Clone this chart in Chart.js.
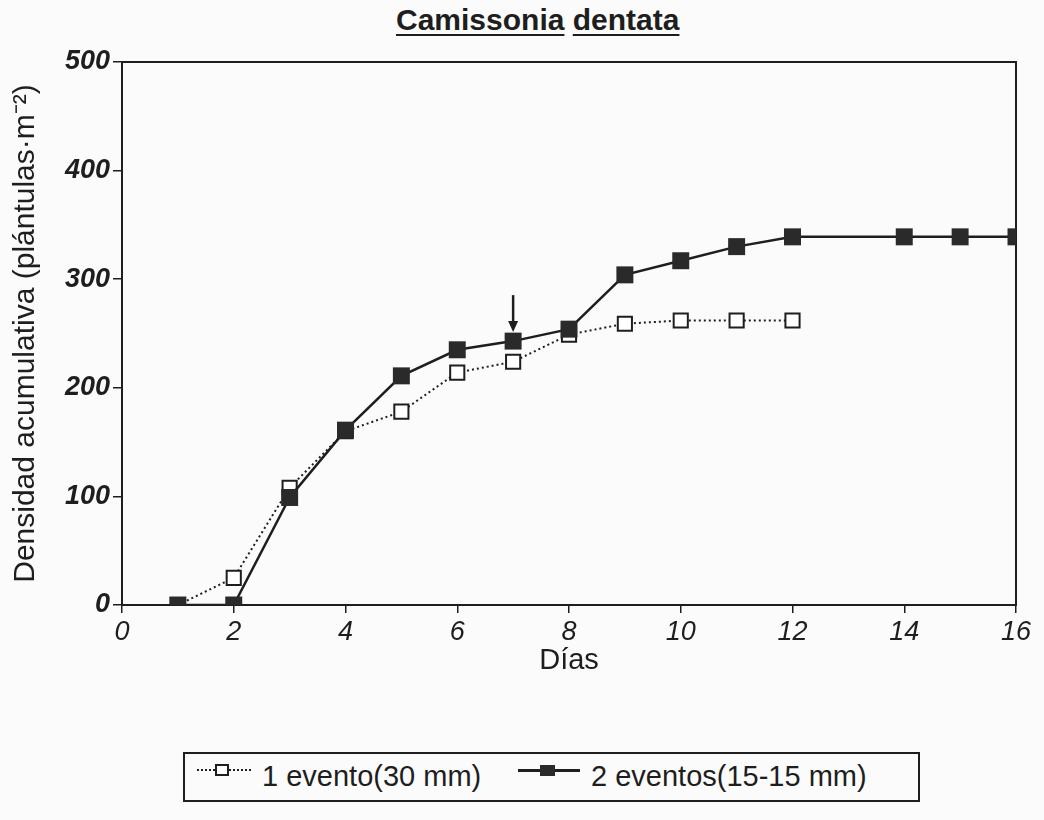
<!DOCTYPE html>
<html>
<head>
<meta charset="utf-8">
<script src="https://cdn.jsdelivr.net/npm/chart.js"></script>
<style>
  body { margin: 0; background: #fbfbfb; font-family: "Liberation Sans", Arial, sans-serif; color: #1e1e1e; }
  #wrap { position: relative; width: 1044px; height: 820px; }
  #title { position: absolute; top: 3px; left: 396px; font-size: 30px; font-weight: bold; white-space: nowrap; }
  #title span { text-decoration: underline; text-decoration-thickness: 2px; text-underline-offset: 4px; }
  #box { position: absolute; left: 0; top: 0; width: 1044px; height: 700px; }
  #legend { position: absolute; left: 183px; top: 752px; width: 733px; height: 46px; border: 2px solid #1e1e1e; font-size: 29px; }
  .item { position: absolute; top: 6px; white-space: nowrap; }
  .sample { position: absolute; top: 15px; height: 0; }
  .sq { position: absolute; top: -7px; width: 12px; height: 11px; }
</style>
</head>
<body>
<div id="wrap">
  <div id="title"><span>Camissonia</span> <span>dentata</span></div>
  <div id="box"><canvas id="curves"></canvas></div>
  <div id="legend">
    <div class="sample" style="left:12px;width:54px;border-top:2px dotted #1e1e1e;">
      <div class="sq" style="left:18px;background:#fff;border:2px solid #1e1e1e;width:10px;height:8px;top:-7px;"></div>
    </div>
    <div class="item" style="left:77px;">1 evento(30 mm)</div>
    <div class="sample" style="left:333px;width:62px;border-top:3px solid #1e1e1e;">
      <div class="sq" style="left:22px;background:#2a2a2a;width:15px;top:-7px;"></div>
    </div>
    <div class="item" style="left:406px;">2 eventos(15-15 mm)</div>
  </div>
</div>
<script>
// values
var days1 = [1, 2, 3, 4, 5, 6, 7, 8, 9, 10, 11, 12];
var evento1 = [0, 25, 108, 160, 178, 214, 224, 249, 259, 262, 262, 262];
var days2 = [1, 2, 3, 4, 5, 6, 7, 8, 9, 10, 11, 12, 14, 15, 16];
var eventos2 = [0, 0, 99, 161, 211, 235, 243, 254, 304, 317, 330, 339, 339, 339, 339];
var xTicks = [0, 2, 4, 6, 8, 10, 12, 14, 16];
var yTicks = [0, 100, 200, 300, 400, 500];
var arrowDay = 7;

var ink = '#1e1e1e';

function pts(xs, ys) {
  return xs.map(function(d, i) { return { x: d, y: ys[i] }; });
}

var framePlugin = {
  id: 'frame',
  beforeDatasetsDraw: function(chart) {
    var a = chart.chartArea, c = chart.ctx;
    c.save();
    c.strokeStyle = ink;
    c.lineWidth = 2;
    c.strokeRect(a.left, a.top, a.right - a.left, a.bottom - a.top);
    c.restore();
  }
};

var arrowPlugin = {
  id: 'arrow',
  afterDatasetsDraw: function(chart) {
    var xs = chart.scales.x, ys = chart.scales.y, c = chart.ctx;
    var x = xs.getPixelForValue(arrowDay);
    var yp = ys.getPixelForValue(eventos2[days2.indexOf(arrowDay)]);
    c.save();
    c.strokeStyle = ink;
    c.fillStyle = ink;
    c.lineWidth = 2.5;
    c.beginPath();
    c.moveTo(x, yp - 46);
    c.lineTo(x, yp - 18);
    c.stroke();
    c.beginPath();
    c.moveTo(x - 5, yp - 20);
    c.lineTo(x + 5, yp - 20);
    c.lineTo(x, yp - 9);
    c.closePath();
    c.fill();
    c.restore();
  }
};

new Chart(document.getElementById('curves'), {
  type: 'line',
  data: {
    datasets: [{
      label: '1 evento(30 mm)',
      data: pts(days1, evento1),
      borderColor: ink,
      borderWidth: 2,
      borderDash: [2, 3],
      pointStyle: 'rect',
      pointRadius: 10,
      pointBorderWidth: 2,
      pointBackgroundColor: '#fff',
      pointBorderColor: ink,
      tension: 0,
      order: 2
    }, {
      label: '2 eventos(15-15 mm)',
      data: pts(days2, eventos2),
      borderColor: ink,
      borderWidth: 2.5,
      pointStyle: 'rect',
      pointRadius: 12,
      pointBorderWidth: 0,
      pointBackgroundColor: '#2a2a2a',
      pointBorderColor: '#2a2a2a',
      tension: 0,
      order: 1
    }]
  },
  options: {
    responsive: true,
    maintainAspectRatio: false,
    animation: false,
    layout: { padding: { left: 5, right: 28, top: 62, bottom: 19 } },
    scales: {
      x: {
        type: 'linear',
        min: 0,
        max: 16,
        afterFit: function(s) { s.height = 76; },
        afterBuildTicks: function(s) { s.ticks = xTicks.map(function(v) { return { value: v }; }); },
        border: { display: false },
        grid: { drawOnChartArea: false, drawTicks: true, tickLength: 8, color: ink, lineWidth: 1.5 },
        ticks: { color: ink, padding: 3, maxRotation: 0, font: { family: '"Liberation Sans", Arial', size: 27, style: 'italic' } },
        title: { display: true, text: 'Días', color: ink, padding: { top: 0, bottom: 3 }, font: { family: '"Liberation Sans", Arial', size: 29 } }
      },
      y: {
        min: 0,
        max: 500,
        afterFit: function(s) { s.width = 117; },
        afterBuildTicks: function(s) { s.ticks = yTicks.map(function(v) { return { value: v }; }); },
        border: { display: false },
        grid: { drawOnChartArea: false, drawTicks: true, tickLength: 9, color: ink, lineWidth: 1.5 },
        ticks: { color: ink, padding: 3, font: { family: '"Liberation Sans", Arial', size: 27, style: 'italic', weight: 'bold' } },
        title: { display: true, text: 'Densidad acumulativa (plántulas·m⁻²)', color: ink, padding: 3, font: { family: '"Liberation Sans", Arial', size: 30 } }
      }
    },
    plugins: {
      legend: { display: false },
      tooltip: { enabled: false }
    }
  },
  plugins: [framePlugin, arrowPlugin]
});
</script>
</body>
</html>
